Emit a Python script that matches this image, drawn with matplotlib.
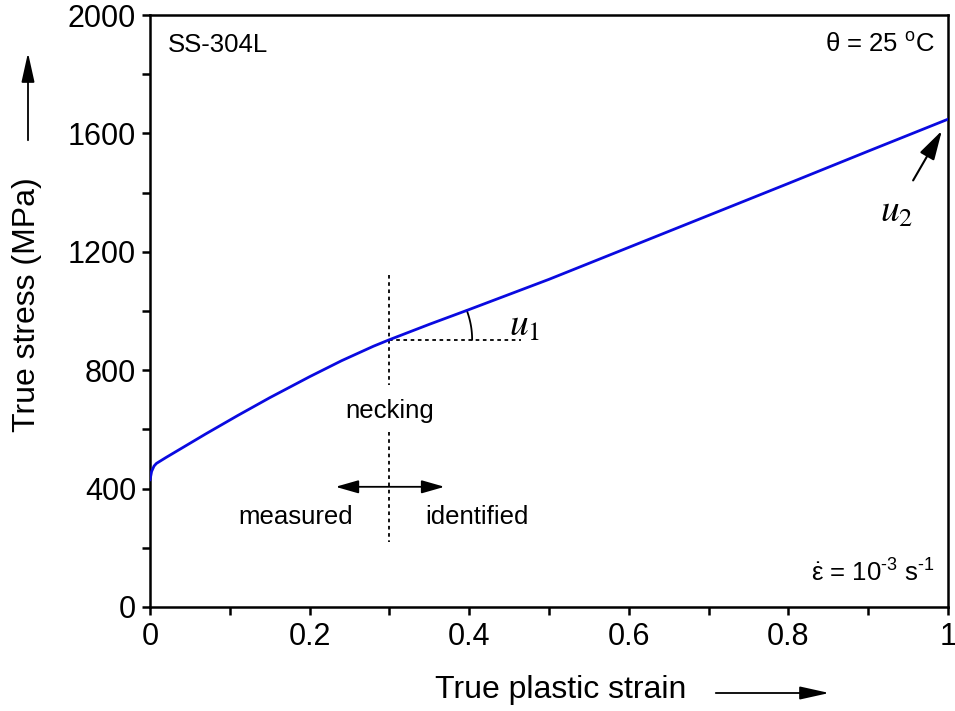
import numpy as np
import matplotlib
matplotlib.use("Agg")
import matplotlib.pyplot as plt
from matplotlib.ticker import MultipleLocator, FixedLocator

plt.rcParams['font.family'] = ['Liberation Sans', 'DejaVu Sans']
plt.rcParams['mathtext.fontset'] = 'custom'
plt.rcParams['mathtext.rm'] = 'Liberation Sans'
plt.rcParams['mathtext.it'] = 'Liberation Sans:italic'

# curve
strain = [0.0, 0.002, 0.005, 0.008, 0.02, 0.04, 0.07, 0.11, 0.15, 0.2, 0.24, 0.28, 0.3,
          0.35, 0.4, 0.5, 0.6, 0.7, 0.8, 0.9, 1.0]
stress = [430, 458, 476, 485, 505, 537, 585, 647, 707, 778, 832, 881, 903,
          955, 1005, 1107, 1215, 1323, 1431, 1540, 1648]

x_ticks = [0, 0.2, 0.4, 0.6, 0.8, 1.0]
x_labels = ['0', '0.2', '0.4', '0.6', '0.8', '1']
y_ticks = [0, 400, 800, 1200, 1600, 2000]
y_labels = ['0', '400', '800', '1200', '1600', '2000']

eps_neck = 0.3
sig_neck = 903

fig = plt.figure(figsize=(9.55, 7.11), dpi=100)
ax = fig.add_axes([0.1571, 0.1463, 0.8356, 0.8326])

ax.plot(strain, stress, color='#0a0ae0', lw=2.0, zorder=3)

ax.set_xlim(0, 1)
ax.set_ylim(0, 2000)
ax.xaxis.set_major_locator(FixedLocator(x_ticks))
ax.set_xticklabels(x_labels)
ax.yaxis.set_major_locator(FixedLocator(y_ticks))
ax.set_yticklabels(y_labels)
ax.xaxis.set_minor_locator(MultipleLocator(0.1))
ax.yaxis.set_minor_locator(MultipleLocator(200))
ax.tick_params(which='both', direction='out', length=6, width=1.8,
               top=False, right=False)
ax.tick_params(axis='x', labelsize=22, pad=5)
ax.tick_params(axis='y', labelsize=22, pad=4)
for s in ax.spines.values():
    s.set_linewidth(1.8)

# axis titles with arrows
fig.text(561 / 955, 1 - 690 / 711, 'True plastic strain', fontsize=23,
         ha='center', va='center')
fig.text(27 / 955, 1 - 305 / 711, 'True stress (MPa)', fontsize=23,
         ha='center', va='center', rotation=90)
fig.add_artist(matplotlib.patches.FancyArrowPatch(
    (713 / 955, 1 - 693 / 711), (832 / 955, 1 - 693 / 711),
    transform=fig.transFigure, arrowstyle='-|>,head_length=0.9,head_width=0.2',
    mutation_scale=20, lw=1.3, color='black'))
fig.add_artist(matplotlib.patches.FancyArrowPatch(
    (28 / 955, 1 - 143 / 711), (28 / 955, 1 - 50 / 711),
    transform=fig.transFigure, arrowstyle='-|>,head_length=0.9,head_width=0.2',
    mutation_scale=20, lw=1.3, color='black'))

# corner labels
ax.text(0.022, 0.95, 'SS-304L', transform=ax.transAxes, fontsize=18.5,
        ha='left', va='center')
ax.text(0.983, 0.95, 'θ = 25 $^{\\rm o}$C', transform=ax.transAxes, fontsize=18.5,
        ha='right', va='center')
ax.text(0.983, 0.058, '$\\dot{\\mathrm{\\varepsilon}}$ = 10$^{\\text{-3}}$ s$^{\\text{-1}}$',
        transform=ax.transAxes, fontsize=18.5, ha='right', va='center')

# necking markers
ax.plot([eps_neck, eps_neck], [1122, 750], color='black', lw=1.3, ls=(0, (2, 2)))
ax.plot([eps_neck, eps_neck], [592, 220], color='black', lw=1.3, ls=(0, (2, 2)))
ax.plot([eps_neck, 0.465], [sig_neck, sig_neck], color='black', lw=1.3, ls=(0, (2, 2)))
ax.text(eps_neck, 663, 'necking', fontsize=18.5, ha='center', va='center')
ax.annotate('', xy=(0.229, 406), xytext=(0.3725, 406),
            arrowprops=dict(arrowstyle='<|-|>,head_length=0.7,head_width=0.2',
                            mutation_scale=20, lw=1.3, color='black'))
ax.text(0.183, 304, 'measured', fontsize=18.5, ha='center', va='center')
ax.text(0.41, 304, 'identified', fontsize=18.5, ha='center', va='center')

# angle arc for u1 (radius in pixels -> data units)
r_px = 82.7
px_x = 798.0
px_y = 592.0 / 2000.0
slope = (stress[14] - stress[12]) / (strain[14] - strain[12])
ang = np.arctan(slope * px_y / px_x)
t = np.linspace(0, ang, 40)
ax.plot(eps_neck + r_px * np.cos(t) / px_x, sig_neck + r_px * np.sin(t) / px_y,
        color='black', lw=1.3)
ax.text(0.469, 950, '$u_1$', fontsize=27, ha='center', va='center',
        math_fontfamily='stix')
ax.text(0.935, 1335, '$u_2$', fontsize=27, ha='center', va='center',
        math_fontfamily='stix')
ax.annotate('', xy=(0.994, 1617), xytext=(0.9545, 1433),
            arrowprops=dict(arrowstyle='-|>,head_length=0.9,head_width=0.25',
                            mutation_scale=20, lw=1.5, color='black'))

fig.savefig('out.png', dpi=100)
